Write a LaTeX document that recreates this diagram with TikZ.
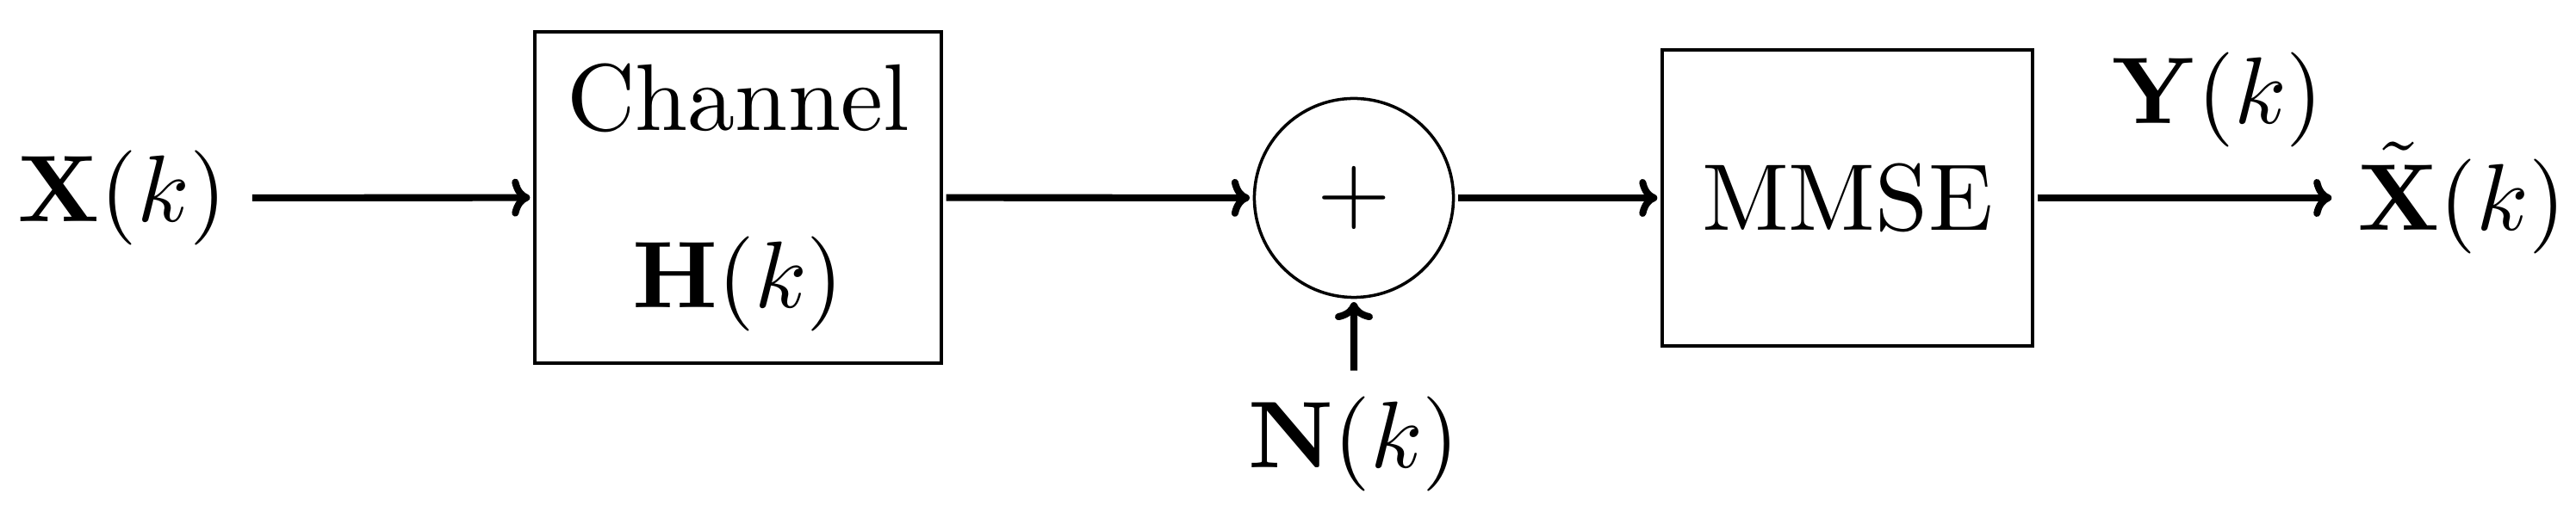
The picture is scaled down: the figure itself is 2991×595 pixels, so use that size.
\documentclass[tikz,border=0pt]{standalone}
\usetikzlibrary{arrows.meta}
\begin{document}
\begin{tikzpicture}[x=0.01cm,y=-0.01cm,
  txt/.style={scale=3.13,inner sep=2.5pt},
  blk/.style={draw,line width=1pt,scale=3.13,align=center,inner sep=0pt},
  sumnode/.style={draw,circle,line width=1pt,scale=3.13,inner sep=0pt,minimum size=0.738cm},
  conn/.style={line width=2.3pt,-{Computer Modern Rightarrow[length=6pt,width=12.5pt]}}]
\useasboundingbox (0,0) rectangle (2991,595);
\node[txt] (xin) at (142,230) {$\mathbf{X}(k)$};
\node[blk,minimum width=1.508cm,minimum height=1.230cm] (chan) at (857,229.5) {Channel\\[6.8pt]$\mathbf{H}(k)$};
\node[sumnode] (sum) at (1572,230) {$+$};
\node[txt] (noise) at (1572,515.5) {$\mathbf{N}(k)$};
\node[blk,minimum width=1.374cm,minimum height=1.099cm] (mmse) at (2145,230) {MMSE};
\node[txt] (xout) at (2858,230) {$\tilde{\mathbf{X}}(k)$};
\node[txt] (yk) at (2575,115.5) {$\mathbf{Y}(k)$};
\draw[conn] (xin) -- (chan);
\draw[conn] (chan) -- (sum);
\draw[conn] (noise) -- (sum);
\draw[conn] (sum) -- (mmse);
\draw[conn] (mmse) -- (xout);
\end{tikzpicture}
\end{document}
